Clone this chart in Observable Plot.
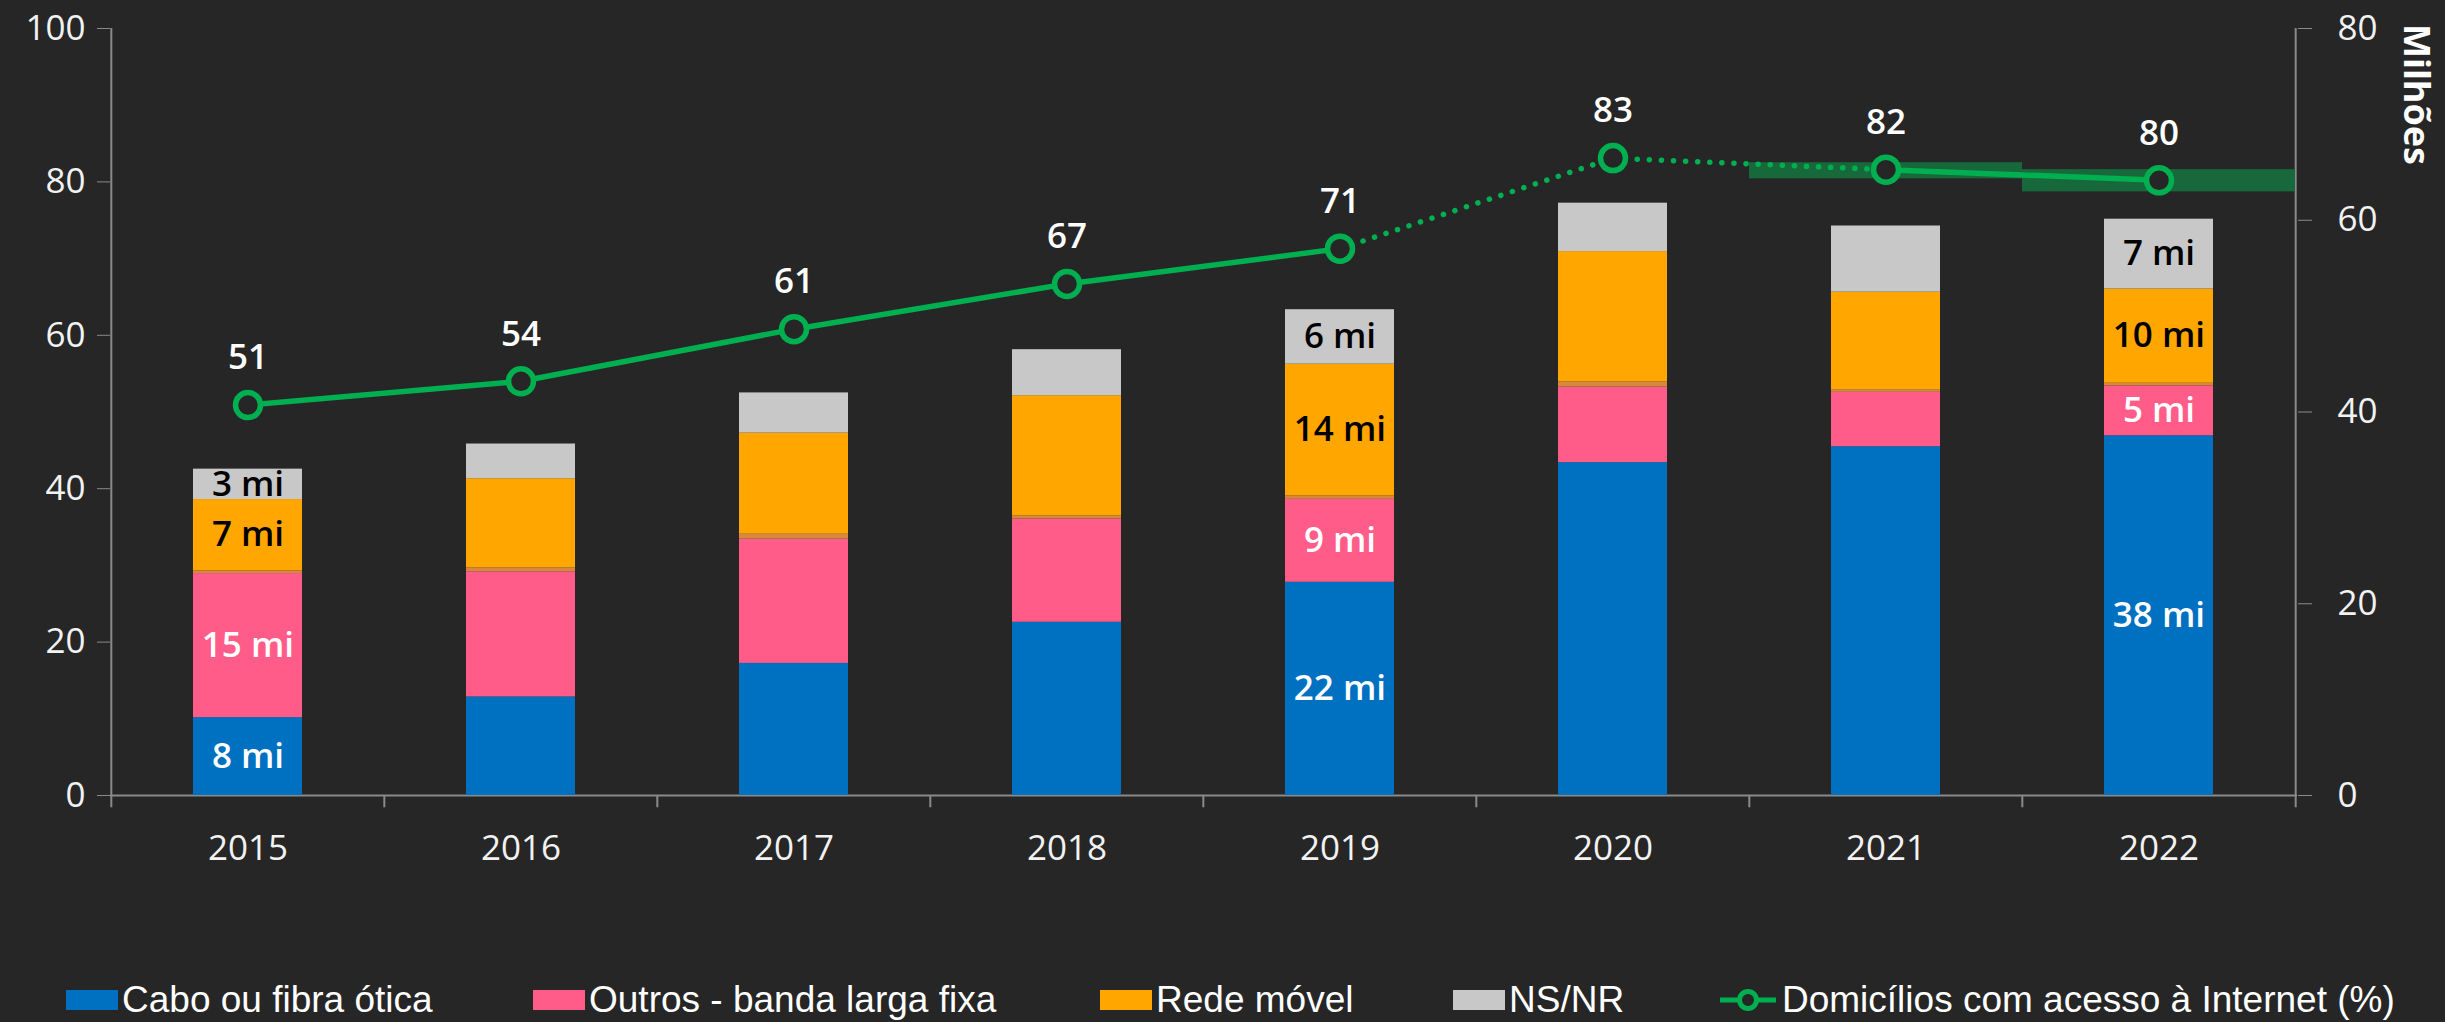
<!DOCTYPE html>
<html>
<head>
<meta charset="utf-8">
<script src="https://cdn.jsdelivr.net/npm/d3@7"></script>
<script src="https://cdn.jsdelivr.net/npm/@observablehq/plot@0.6"></script>
<style>
  html, body { margin: 0; padding: 0; background: #262626; }
  #chart { position: relative; width: 2445px; height: 1022px; overflow: hidden; background: #262626; }
  #legend { position: absolute; left: 0; top: 977px; width: 2445px; height: 45px;
            font-family: "Liberation Sans", Arial, sans-serif; font-size: 37px; color: #ffffff; }
  .item { position: absolute; top: 0; height: 45px; display: flex; align-items: center; white-space: nowrap; }
  .sw { width: 52px; height: 20px; margin-right: 4px; }
</style>
</head>
<body>
<div id="chart"></div>
<script>
// ---------- data ----------
const years = ["2015", "2016", "2017", "2018", "2019", "2020", "2021", "2022"];

// households by connection type (millions), stacked bottom -> top
const cabo      = [8.12, 10.28, 13.78, 18.07, 22.24, 34.72, 36.38, 37.52];
const outros    = [15.03, 13.05, 12.95, 10.76, 8.65, 7.87, 5.67, 5.20];
const outraTec  = [0.28, 0.42, 0.52, 0.32, 0.35, 0.56, 0.28, 0.28];
const movel     = [7.44, 9.29, 10.55, 12.55, 13.75, 13.58, 10.17, 9.83];
const nsnr      = [3.17, 3.62, 4.19, 4.80, 5.68, 5.05, 6.90, 7.28];

const seriesNames  = ["Cabo ou fibra ótica", "Outros - banda larga fixa", "Outra tecnologia", "Rede móvel", "NS/NR"];
const seriesValues = [cabo, outros, outraTec, movel, nsnr];
const seriesColors = ["#0070C0", "#FF5C8A", "#D8873F", "#FFA600", "#C8C8C8"];
const whiteLabelSeries = ["Cabo ou fibra ótica", "Outros - banda larga fixa"];
const blackLabelSeries = ["Rede móvel", "NS/NR"];
const labeledYears = ["2015", "2019", "2022"];

// households with Internet access (%)
const pctInternet = [50.9, 54.0, 60.8, 66.7, 71.3, 83.1, 81.6, 80.2];
// interval i joins years[i] and years[i+1]
const segmentDotted = [false, false, false, false, true, true, false];

// shaded bands (%)
const bandYears = ["2021", "2022"];
const bandLow   = [80.4, 78.7];
const bandHigh  = [82.5, 81.6];

const leftTicks  = [0, 20, 40, 60, 80, 100];   // %
const rightTicks = [0, 20, 40, 60, 80];        // millions
const rightTitle = "Milhões";

// ---------- derived tables ----------
const K = 100 / 80; // left axis 100 % <-> right axis 80 millions

const stackData = years.flatMap((year, i) =>
  seriesNames.map((series, j) => ({year, series, m: seriesValues[j][i], v: seriesValues[j][i] * K}))
);
const linePts = years.map((year, i) => ({year, pct: pctInternet[i]}));
const segPts = segmentDotted.flatMap((dotted, i) => [
  {year: years[i], pct: pctInternet[i], seg: "s" + i, dotted},
  {year: years[i + 1], pct: pctInternet[i + 1], seg: "s" + i, dotted}
]);
const bands = bandYears.map((year, i) => ({year, lo: bandLow[i], hi: bandHigh[i]}));

// ---------- layout ----------
const W = 2445, H = 900;
const mL = 110, mR = 148, mT = 28, mB = 105;
const step = (W - mL - mR) / years.length;
const half = step / 2;
const AX = "#8a8a8a", TXT = "#f2f2f2", GREEN = "#00B050";
const FONT = "'Open Sans', 'Noto Sans', sans-serif";

const label = (d) => labeledYears.includes(d.year) ? `${Math.round(d.m)} mi` : "";

const chart = Plot.plot({
  width: W, height: H,
  marginLeft: mL, marginRight: mR, marginTop: mT, marginBottom: mB,
  style: {background: "#262626", color: TXT, fontFamily: FONT, fontSize: "35px"},
  x: {type: "band", domain: years, paddingInner: 0.6, paddingOuter: 0.3, label: null},
  y: {domain: [0, 100], label: null},
  color: {domain: seriesNames, range: seriesColors},
  marks: [
    // axes
    Plot.axisY({anchor: "left", ticks: leftTicks, tickSize: 13, tickPadding: 12, fontSize: 35,
                stroke: AX, fill: TXT, label: null}),
    Plot.axisY({anchor: "right", ticks: rightTicks.map(v => v * K), tickFormat: d => Math.round(d / K),
                tickSize: 14, tickPadding: 26, fontSize: 35, stroke: AX, fill: TXT, label: null}),
    Plot.axisX({anchor: "bottom", tickSize: 0, tickPadding: 40, fontSize: 35, fill: TXT, label: null}),
    Plot.ruleY([0], {stroke: AX, strokeWidth: 2}),
    Plot.ruleX([years[0]], {dx: -half, y1: -1.6, y2: 100, stroke: AX, strokeWidth: 2}),
    Plot.ruleX([years[years.length - 1]], {dx: half, y1: -1.6, y2: 100, stroke: AX, strokeWidth: 2}),
    Plot.ruleX(years.slice(1), {dx: -half, y1: 0, y2: -1.6, stroke: AX, strokeWidth: 2}),
    // right axis title, rotated, near the top
    Plot.text([{year: years[years.length - 1], pct: 91.4, t: rightTitle}],
      {x: "year", y: "pct", text: "t", rotate: 90, dx: half + 120,
       fontSize: 36, fontWeight: 700, fill: "#ffffff"}),

    // shaded bands
    Plot.barY(bands, {x: "year", y1: "lo", y2: "hi", fill: "#17693B",
                      insetLeft: -(half - step * 0.2), insetRight: -(half - step * 0.2)}),

    // stacked bars
    Plot.barY(stackData, {x: "year", y: "v", fill: "series"}),
    Plot.text(stackData, Plot.stackY({x: "year", y: "v", z: "series",
      text: d => whiteLabelSeries.includes(d.series) ? label(d) : "",
      fill: "#ffffff", fontSize: 35, fontWeight: 600})),
    Plot.text(stackData, Plot.stackY({x: "year", y: "v", z: "series",
      text: d => blackLabelSeries.includes(d.series) ? label(d) : "",
      fill: "#000000", fontSize: 35, fontWeight: 600})),

    // line
    Plot.line(segPts.filter(d => !d.dotted), {x: "year", y: "pct", z: "seg",
      stroke: GREEN, strokeWidth: 5.5}),
    Plot.line(segPts.filter(d => d.dotted), {x: "year", y: "pct", z: "seg",
      stroke: GREEN, strokeWidth: 5.5, strokeDasharray: "0.1 12", strokeLinecap: "round"}),
    Plot.dot(linePts, {x: "year", y: "pct", r: 12.5, stroke: GREEN, strokeWidth: 5.5, fill: "#262626"}),
    Plot.text(linePts, {x: "year", y: "pct", text: d => Math.round(d.pct), dy: -47,
      fill: "#ffffff", fontSize: 35, fontWeight: 600})
  ]
});

const host = document.getElementById("chart");
host.appendChild(chart);

// legend (HTML, below the SVG)
const legend = document.createElement("div");
legend.id = "legend";
const legendItems = [
  {name: seriesNames[0], color: seriesColors[0], left: 66},
  {name: seriesNames[1], color: seriesColors[1], left: 533},
  {name: seriesNames[3], color: seriesColors[3], left: 1100},
  {name: seriesNames[4], color: seriesColors[4], left: 1453}
];
for (const it of legendItems) {
  const el = document.createElement("div");
  el.className = "item";
  el.style.left = it.left + "px";
  el.innerHTML = `<div class="sw" style="background:${it.color}"></div><span>${it.name}</span>`;
  legend.appendChild(el);
}
const lineItem = document.createElement("div");
lineItem.className = "item";
lineItem.style.left = "1718px";
lineItem.innerHTML = `<svg width="60" height="30" style="margin-right:4px">
  <line x1="2" y1="15" x2="58" y2="15" stroke="${GREEN}" stroke-width="5"/>
  <circle cx="30" cy="15" r="8.5" fill="#262626" stroke="${GREEN}" stroke-width="5"/>
</svg><span>Domicílios com acesso à Internet (%)</span>`;
legend.appendChild(lineItem);
host.appendChild(legend);
</script>
</body>
</html>
